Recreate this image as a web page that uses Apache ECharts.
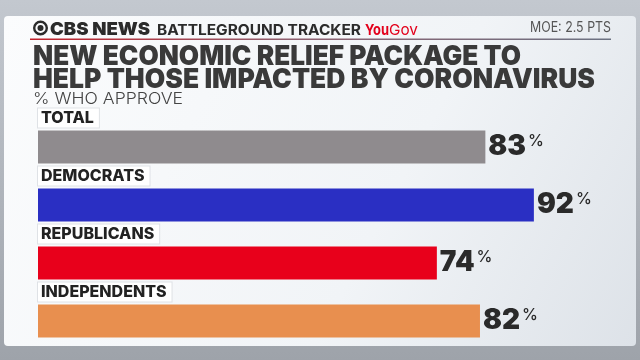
<!DOCTYPE html>
<html><head><meta charset="utf-8">
<script src="https://cdn.jsdelivr.net/npm/echarts@6/dist/echarts.min.js"></script>
<style>html,body{margin:0;padding:0;background:#fff}#c{width:640px;height:360px}</style>
</head><body><div id="c"></div>
<script>
const categories = ['TOTAL', 'DEMOCRATS', 'REPUBLICANS', 'INDEPENDENTS'];
const approve = [83, 92, 74, 82];
const barColors = ['#8f8b8e', '#2a2fc3', '#e8001b', '#e88f4f'];

const F = 'Inter, "Liberation Sans", Arial, sans-serif';
const mctx = document.createElement('canvas').getContext('2d');
function fitText(text, font, x, yc, targetW, fill) {
  mctx.font = font + ' ' + F;
  const w = mctx.measureText(text).width;
  return {type: 'text', silent: true, x: x, y: yc, scaleX: targetW / w,
          style: {text: text, font: font + ' ' + F, fill: fill, align: 'left', verticalAlign: 'middle'}};
}

const chart = echarts.init(document.getElementById('c'), null, {renderer: 'canvas'});
chart.setOption({
  animation: false,
  graphic: [
    {type: 'rect', silent: true, z: -10, shape: {x: 0, y: 0, width: 640, height: 360},
     style: {fill: new echarts.graphic.LinearGradient(0, 0, 0, 1, [{offset: 0, color: '#c3c8cf'}, {offset: 1, color: '#9ea3aa'}])}},
    {type: 'rect', silent: true, z: -9, shape: {x: 4, y: 16, width: 632, height: 330, r: 4},
     style: {fill: new echarts.graphic.LinearGradient(0, 0, 1, 1, [{offset: 0, color: '#fbfcfd'}, {offset: 0.6, color: '#f1f4f7'}, {offset: 1, color: '#dde2e8'}])}},
    // CBS eye
    {type: 'circle', silent: true, shape: {cx: 40.5, cy: 28, r: 6.3}, style: {fill: 'none', stroke: '#2b2b2b', lineWidth: 2.4}},
    {type: 'circle', silent: true, shape: {cx: 40.5, cy: 28, r: 3}, style: {fill: '#2b2b2b'}},
    fitText('CBS NEWS', '900 18px', 50, 29.5, 100, '#2b2b2b'),
    fitText('BATTLEGROUND TRACKER', 'bold 15px', 157, 30, 204, '#2b2b2b'),
    fitText('You', 'bold 15px', 365, 30, 24, '#e3001b'),
    fitText('Gov', '15px', 389, 30, 29, '#e3001b'),
    fitText('MOE: 2.5 PTS', '14px', 530, 28, 81, '#555'),
    {type: 'rect', silent: true, shape: {x: 30, y: 38.5, width: 581, height: 1.5},
     style: {fill: new echarts.graphic.LinearGradient(0, 0, 1, 0, [{offset: 0, color: '#c0202a'}, {offset: 0.45, color: '#8f6070'}, {offset: 1, color: '#6c7282'}])}},
    fitText('NEW ECONOMIC RELIEF PACKAGE TO', '900 27px', 33, 56.5, 488, '#3a3a3a'),
    fitText('HELP THOSE IMPACTED BY CORONAVIRUS', '900 27px', 33, 80, 562, '#3a3a3a'),
    fitText('% WHO APPROVE', '300 16px', 33, 99.5, 150, '#444')
  ],
  grid: {left: 38, width: 539, top: 118, height: 232},
  xAxis: {type: 'value', min: 0, max: 100, show: false},
  yAxis: {type: 'category', data: categories, inverse: true, show: false},
  series: [{
    type: 'bar',
    barWidth: 33,
    data: approve.map((v, i) => ({value: v, itemStyle: {color: barColors[i]}})),
    label: {
      show: true, position: 'right', distance: 3,
      formatter: p => '{v|' + p.value + '}{p|%}',
      rich: {
        v: {fontSize: 28, fontWeight: 900, fontFamily: F, color: '#2a2a2a', lineHeight: 28},
        p: {fontSize: 16, fontWeight: 500, fontFamily: F, color: '#2a2a2a', verticalAlign: 'top', lineHeight: 16, padding: [0, 0, 0, 2]}
      }
    }
  }, {
    type: 'bar',
    barWidth: 33,
    barGap: '-100%',
    silent: true,
    data: approve.map(v => ({value: v, itemStyle: {color: 'rgba(0,0,0,0)'}})),
    label: {
      show: true, position: [0, -22],
      formatter: p => categories[p.dataIndex],
      backgroundColor: '#ffffff', borderColor: '#dfe2e6', borderWidth: 1,
      padding: [2, 5, 1, 3],
      fontSize: 16, fontWeight: 800, fontFamily: F, color: '#222'
    }
  }]
});
</script></body></html>
